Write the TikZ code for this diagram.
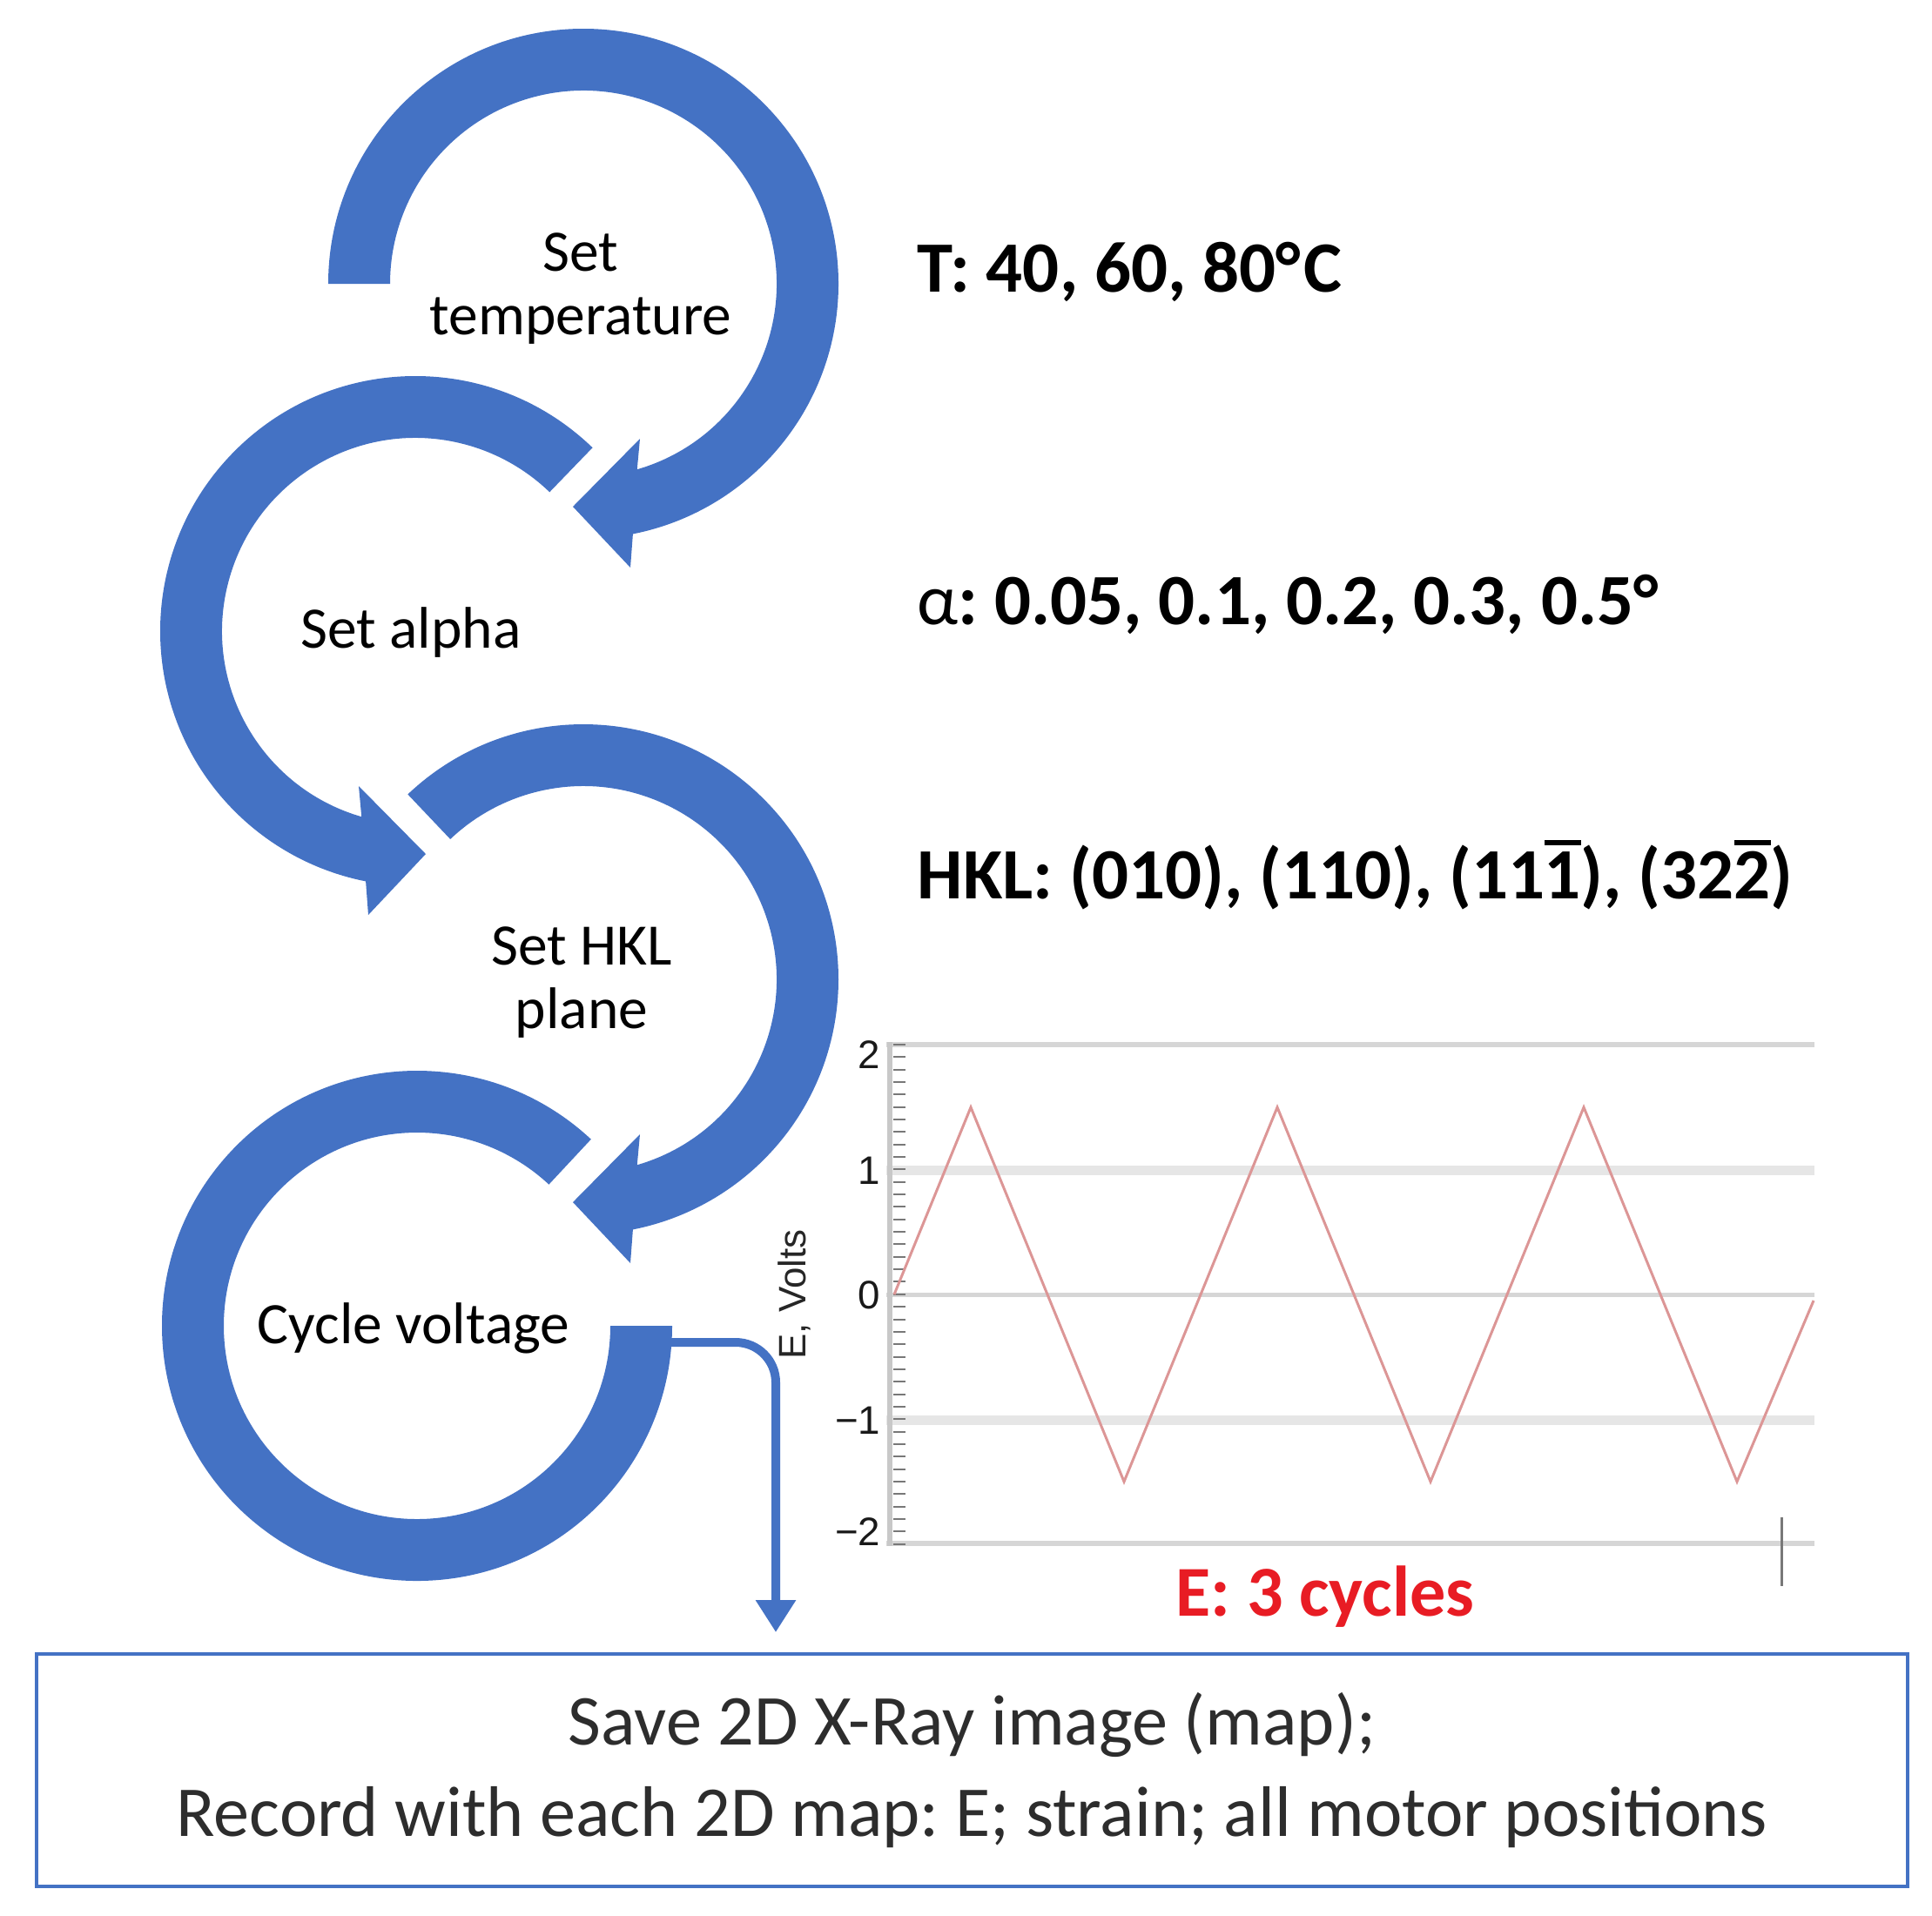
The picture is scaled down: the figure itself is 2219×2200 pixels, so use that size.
\documentclass[tikz,border=0pt]{standalone}
\usepackage{fontspec}
\setmainfont{Carlito}
\newfontfamily\plotfont{Liberation Sans}
\usetikzlibrary{arrows.meta}
\frenchspacing
\definecolor{ringblue}{RGB}{68,114,196}
\definecolor{wavered}{RGB}{220,150,150}
\definecolor{gridgray}{RGB}{214,214,214}
\definecolor{bandgray}{RGB}{230,230,230}
\definecolor{axisgray}{RGB}{200,200,200}
\definecolor{tickgray}{RGB}{120,120,120}
\definecolor{cycred}{RGB}{232,28,36}
\definecolor{boxtext}{RGB}{45,45,45}
\newcommand\obar[1]{\leavevmode\vbox{\hrule height 0.6mm\kern 0.7mm\hbox{#1}}}
% ring band with arrowhead, drawn clockwise from angle #1 in local coordinates
\newcommand\ringarrow[1]{%
  \fill[ringblue] (#1:293) arc[start angle=#1,end angle=-78.8,radius=293]
    -- (54,-326) -- (-12,-256) -- (65,-178) -- (-73.85:222)
    arc[start angle=-73.85,end angle=#1,radius=222] -- cycle;}
\tikzset{
  lbl/.style={font=\fontsize{19.2}{20.5}\selectfont, inner sep=0, align=center},
  param/.style={font=\fontsize{23.6}{28}\selectfont\bfseries, inner sep=0, anchor=base west},
  ticklbl/.style={font=\plotfont\fontsize{13}{13}\selectfont, text=black!90, inner sep=0, anchor=east},
  savebox/.style={draw=ringblue, line width=0.4mm, minimum width=214.9mm, minimum height=26.7mm,
    inner sep=0, align=center, text=boxtext, font=\fontsize{23.4}{29.6}\selectfont},
  flow/.style={draw=ringblue, line width=1mm, rounded corners=4.6mm, -{Triangle[width=4.4mm,length=3.7mm]}}
}
\begin{document}
\begin{tikzpicture}[x=0.1mm,y=0.1mm]
\useasboundingbox (0,0) rectangle (2219,-2200);
% rings
\begin{scope}[shift={(670,-326)}] \ringarrow{180} \end{scope}
\begin{scope}[shift={(477,-725)},xscale=-1] \ringarrow{134} \end{scope}
\begin{scope}[shift={(670,-1125)}] \ringarrow{133.5} \end{scope}
\begin{scope}[shift={(479,-1523)}]
  \fill[ringblue] (47:293) arc[start angle=47,end angle=360,radius=293]
    -- (360:222) arc[start angle=360,end angle=47,radius=222] -- cycle;
\end{scope}
% ring labels (base = last line)
\node[lbl, anchor=base] (temp) at (667,-384) {Set\\temperature};
\node[lbl, anchor=base] (alpha) at (472,-744) {Set alpha};
\node[lbl, anchor=base] (hkl) at (668,-1181) {Set HKL\\plane};
\node[lbl, anchor=base] (cyc) at (475,-1543) {Cycle voltage};
% parameters
\node[param] (tpar) at (1053,-335) {T: 40, 60, 80°\kern0.04em C};
\node[param] (apar) at (1053,-717) {{\mdseries α}: 0.05, 0.1, 0.2, 0.3, 0.5°};
\node[param] (hpar) at (1053,-1032) {HKL: (010), (110), (11\obar{1}), (32\obar{2})};
% plot
\fill[bandgray] (1018,-1338.5) rectangle (2084,-1349.5);
\fill[bandgray] (1018,-1625.5) rectangle (2084,-1636.5);
\fill[gridgray] (1018,-1197) rectangle (2084,-1203);
\fill[gridgray] (1018,-1484.5) rectangle (2084,-1489.5);
\fill[gridgray] (1018,-1770) rectangle (2084,-1776);
\fill[axisgray] (1019,-1197) rectangle (1025,-1776);
\foreach \k in {0,...,40} {
  \fill[tickgray] (1026,{-1200-14.34*\k-1}) rectangle (1040,{-1200-14.34*\k+1});
}
\draw[wavered, line width=0.3mm, line join=miter]
  (1027,-1487) -- (1115,-1272) -- (1291,-1702) -- (1467,-1272) -- (1643,-1702)
  -- (1819,-1272) -- (1995,-1702) -- (2083,-1494);
\fill[tickgray] (2044.5,-1743) rectangle (2047.5,-1822);
\node[ticklbl] (y2) at (1012,-1212) {2};
\node[ticklbl] (y1) at (1012,-1345) {1};
\node[ticklbl] (y0) at (1012,-1488) {0};
\node[ticklbl] (ym1) at (1012,-1632) {−1};
\node[ticklbl] (ym2) at (1012,-1760) {−2};
\node[font=\plotfont\fontsize{12.5}{12.5}\selectfont, text=black!85, inner sep=0, rotate=90] (ylab) at (912,-1487) {E, Volts};
\node[font=\fontsize{23.4}{28}\selectfont\bfseries, text=cycred, inner sep=0, anchor=base west] (cycles) at (1350,-1856) {E: 3 cycles};
% box and connector
\node[savebox] (save) at (1116.5,-2033.5) {Save 2D X-Ray image (map);\\Record with each 2D map: E; strain; all motor positions};
\coordinate (cycout) at (736,-1542);
\coordinate (savein) at (891,-1875);
\draw[flow] (cycout) -| (savein);
\end{tikzpicture}
\end{document}
